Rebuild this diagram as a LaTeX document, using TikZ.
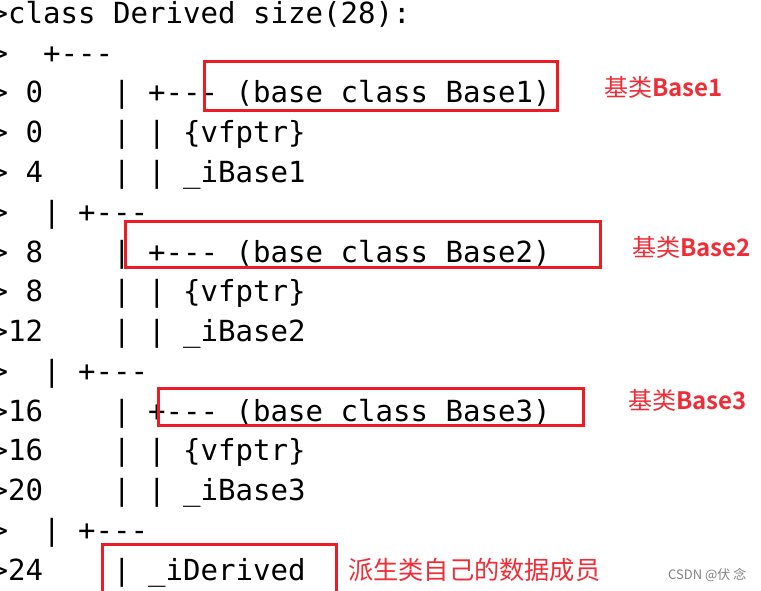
\documentclass[tikz,border=0pt]{standalone}
\usepackage{fontspec}
\setmonofont{DejaVu Sans Mono}
\newfontfamily\cjk{Noto Sans CJK SC}
\newfontfamily\cjkb{Noto Sans CJK SC Bold}
\definecolor{boxred}{RGB}{237,28,36}
\definecolor{labred}{RGB}{240,45,55}
\definecolor{wmgray}{RGB}{130,130,130}
\begin{document}
\begin{tikzpicture}[x=1pt,y=-1pt,
  row/.style={anchor=base west,inner sep=0pt,font=\ttfamily\fontsize{29.07}{39.75}\selectfont,text=black},
  redbox/.style={draw=boxred,line width=3pt},
  lab/.style={anchor=west,inner sep=0pt,text=labred,font=\cjk\fontsize{24}{28}\selectfont}]
\useasboundingbox[fill=white] (0,0) rectangle (761,591);
\node[row] (r1)  at (-9.5,23.5)  {>class Derived size(28):};
\node[row] (r2)  at (-9.5,63.25) {>~~+---};
\node[row] (r3)  at (-9.5,103)   {>~0~~~~|~+---~(base class Base1)};
\node[row] (r4)  at (-9.5,142.75){>~0~~~~|~|~\{vfptr\}};
\node[row] (r5)  at (-9.5,182.5) {>~4~~~~|~|~\_iBase1};
\node[row] (r6)  at (-9.5,222.25){>~~|~+---};
\node[row] (r7)  at (-9.5,262)   {>~8~~~~|~+---~(base class Base2)};
\node[row] (r8)  at (-9.5,301.75){>~8~~~~|~|~\{vfptr\}};
\node[row] (r9)  at (-9.5,341.5) {>12~~~~|~|~\_iBase2};
\node[row] (r10) at (-9.5,381.25){>~~|~+---};
\node[row] (r11) at (-9.5,421)   {>16~~~~|~+---~(base class Base3)};
\node[row] (r12) at (-9.5,460.75){>16~~~~|~|~\{vfptr\}};
\node[row] (r13) at (-9.5,500.5) {>20~~~~|~|~\_iBase3};
\node[row] (r14) at (-9.5,540.25){>~~|~+---};
\node[row] (r15) at (-9.5,580)   {>24~~~~|~\_iDerived};
\draw[redbox] (204,62) rectangle (557,111);
\draw[redbox] (125,222) rectangle (600,267);
\draw[redbox] (158,388) rectangle (583,425);
\draw[redbox] (102,600) -- (102,544) -- (336,544) -- (336,600);
\node[lab] (l1) at (604,87)  {基类{\cjkb Base1}};
\node[lab] (l2) at (632,247) {基类{\cjkb Base2}};
\node[lab] (l3) at (628,400) {基类{\cjkb Base3}};
\node[lab,font=\cjk\fontsize{25.2}{28}\selectfont] (l4) at (348,570) {派生类自己的数据成员};
\node[anchor=west,inner sep=0pt,text=wmgray,font=\cjk\fontsize{13}{15}\selectfont] (wm) at (668,575) {CSDN @伏 念};
\end{tikzpicture}
\end{document}
